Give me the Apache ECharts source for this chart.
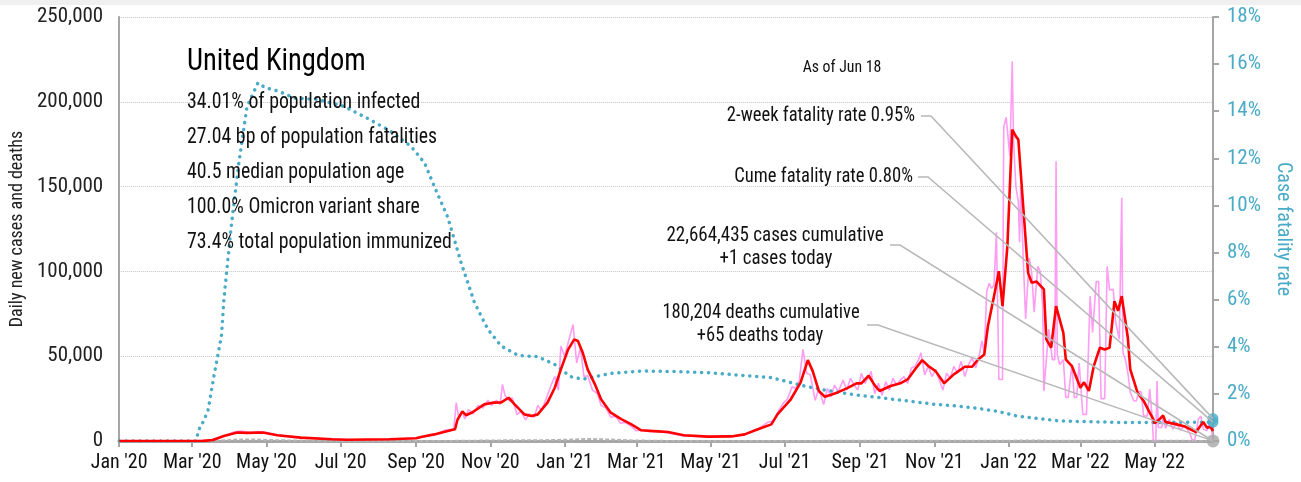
<!DOCTYPE html>
<html>
<head>
<meta charset="utf-8">
<script src="https://cdn.jsdelivr.net/npm/echarts@6/dist/echarts.min.js"></script>
<style>
  html, body { margin: 0; padding: 0; background: #fff; }
  #chart { width: 1301px; height: 482px; }
</style>
</head>
<body>
<div id="chart"></div>
<script>
// x axis ticks
const tickDates = ['2020-01-01', '2020-03-01', '2020-05-01', '2020-07-01', '2020-09-01', '2020-11-01',
  '2021-01-01', '2021-03-01', '2021-05-01', '2021-07-01', '2021-09-01', '2021-11-01',
  '2022-01-01', '2022-03-01', '2022-05-01'];
const tickLabels = ["Jan '20", "Mar '20", "May '20", "Jul '20", "Sep '20", "Nov '20",
  "Jan '21", "Mar '21", "May '21", "Jul '21", "Sep '21", "Nov '21",
  "Jan '22", "Mar '22", "May '22"];
const startDate = '2020-01-01';
const endDate = '2022-06-18';

// daily new cases, thousands
const dailyCases = [
  ['2020-01-01', 0], ['2020-03-01', 0.05], ['2020-03-15', 0.4], ['2020-03-25', 2.5], ['2020-04-05', 5.5],
  ['2020-04-10', 5.9], ['2020-04-18', 4.8], ['2020-04-24', 5.6], ['2020-05-01', 5.0], ['2020-05-10', 3.5],
  ['2020-05-30', 2.0], ['2020-06-24', 1.0], ['2020-07-06', 0.6], ['2020-08-10', 1.0], ['2020-09-01', 1.6],
  ['2020-09-10', 3.0], ['2020-09-18', 4.2], ['2020-09-25', 6.5], ['2020-10-02', 7.0], ['2020-10-04', 22.6],
  ['2020-10-06', 14.0], ['2020-10-09', 17.5], ['2020-10-11', 13.0], ['2020-10-14', 18.5], ['2020-10-18', 16.0],
  ['2020-10-22', 21.0], ['2020-10-26', 19.5], ['2020-10-30', 24.0], ['2020-11-02', 21.0], ['2020-11-06', 24.0],
  ['2020-11-09', 21.5], ['2020-11-11', 33.4], ['2020-11-13', 27.0], ['2020-11-16', 24.0], ['2020-11-19', 25.5],
  ['2020-11-23', 15.5], ['2020-11-26', 17.5], ['2020-11-30', 12.5], ['2020-12-03', 16.0], ['2020-12-07', 14.0],
  ['2020-12-10', 21.0], ['2020-12-13', 18.0], ['2020-12-17', 25.0], ['2020-12-21', 33.0], ['2020-12-24', 38.0],
  ['2020-12-27', 30.0], ['2020-12-29', 56.0], ['2021-01-01', 50.0], ['2021-01-04', 58.0], ['2021-01-08', 68.7],
  ['2021-01-11', 46.0], ['2021-01-14', 55.0], ['2021-01-17', 38.0], ['2021-01-20', 38.5], ['2021-01-24', 30.0],
  ['2021-01-28', 28.0], ['2021-01-31', 21.0], ['2021-02-04', 19.5], ['2021-02-08', 14.0], ['2021-02-12', 14.5],
  ['2021-02-16', 10.5], ['2021-02-20', 11.0], ['2021-02-25', 8.5], ['2021-03-01', 6.0], ['2021-03-05', 6.5],
  ['2021-03-12', 5.5], ['2021-03-19', 5.5], ['2021-03-27', 4.8], ['2021-04-09', 3.0], ['2021-04-29', 2.5],
  ['2021-05-18', 2.8], ['2021-05-29', 3.5], ['2021-06-05', 6.0], ['2021-06-10', 7.5], ['2021-06-17', 11.0],
  ['2021-06-22', 12.0], ['2021-06-26', 18.0], ['2021-06-30', 22.5], ['2021-07-03', 24.5], ['2021-07-07', 32.0],
  ['2021-07-10', 31.0], ['2021-07-13', 36.0], ['2021-07-16', 54.0], ['2021-07-19', 40.0], ['2021-07-22', 39.0],
  ['2021-07-26', 24.0], ['2021-07-29', 31.0], ['2021-08-02', 21.5], ['2021-08-05', 31.0], ['2021-08-08', 26.0],
  ['2021-08-11', 33.0], ['2021-08-14', 29.0], ['2021-08-18', 36.0], ['2021-08-21', 30.0], ['2021-08-24', 37.0],
  ['2021-08-27', 33.0], ['2021-08-30', 30.0], ['2021-09-02', 40.0], ['2021-09-05', 34.0], ['2021-09-08', 38.0],
  ['2021-09-10', 41.0], ['2021-09-13', 28.0], ['2021-09-16', 34.0], ['2021-09-19', 27.0], ['2021-09-22', 35.0],
  ['2021-09-25', 30.0], ['2021-09-28', 37.0], ['2021-10-01', 33.0], ['2021-10-04', 36.0], ['2021-10-07', 38.0],
  ['2021-10-10', 34.0], ['2021-10-13', 43.0], ['2021-10-16', 44.0], ['2021-10-19', 48.0], ['2021-10-21', 52.0],
  ['2021-10-24', 39.0], ['2021-10-27', 44.0], ['2021-10-30', 38.0], ['2021-11-02', 42.0], ['2021-11-05', 36.0],
  ['2021-11-08', 30.0], ['2021-11-11', 40.0], ['2021-11-14', 37.0], ['2021-11-17', 44.0], ['2021-11-20', 40.0],
  ['2021-11-23', 47.0], ['2021-11-26', 38.0], ['2021-11-29', 45.0], ['2021-12-02', 49.0], ['2021-12-05', 43.0],
  ['2021-12-08', 51.0], ['2021-12-10', 59.0], ['2021-12-12', 52.0], ['2021-12-14', 88.0], ['2021-12-16', 93.0],
  ['2021-12-18', 90.0], ['2021-12-20', 92.0], ['2021-12-22', 123.0], ['2021-12-24', 36.3], ['2021-12-27', 36.3],
  ['2021-12-28', 185.0], ['2021-12-30', 191.0], ['2021-12-31', 191.0], ['2022-01-02', 168.0], ['2022-01-04', 223.8],
  ['2022-01-05', 178.0], ['2022-01-07', 150.0], ['2022-01-09', 141.0], ['2022-01-10', 117.0], ['2022-01-11', 150.0],
  ['2022-01-13', 108.0], ['2022-01-15', 72.0], ['2022-01-16', 72.0], ['2022-01-18', 108.0], ['2022-01-20', 99.0],
  ['2022-01-22', 76.0], ['2022-01-23', 76.0], ['2022-01-25', 103.0], ['2022-01-27', 100.0], ['2022-01-29', 80.0],
  ['2022-01-30', 29.5], ['2022-01-31', 29.5], ['2022-02-03', 66.0], ['2022-02-06', 48.0], ['2022-02-08', 48.0],
  ['2022-02-09', 165.0], ['2022-02-10', 51.0], ['2022-02-12', 45.0], ['2022-02-15', 48.0], ['2022-02-17', 25.7],
  ['2022-02-19', 25.7], ['2022-02-21', 38.5], ['2022-02-22', 45.0], ['2022-02-24', 25.7], ['2022-02-26', 25.7],
  ['2022-02-28', 46.0], ['2022-03-01', 46.0], ['2022-03-03', 15.7], ['2022-03-06', 15.7], ['2022-03-09', 85.4],
  ['2022-03-11', 64.0], ['2022-03-14', 94.0], ['2022-03-16', 94.0], ['2022-03-18', 25.0], ['2022-03-21', 25.0],
  ['2022-03-23', 103.0], ['2022-03-25', 89.0], ['2022-03-28', 89.4], ['2022-03-30', 70.0], ['2022-04-02', 60.0],
  ['2022-04-03', 60.0], ['2022-04-04', 143.4], ['2022-04-05', 52.0], ['2022-04-07', 48.0], ['2022-04-09', 40.4],
  ['2022-04-11', 28.6], ['2022-04-14', 23.6], ['2022-04-16', 23.6], ['2022-04-18', 29.0], ['2022-04-20', 29.0],
  ['2022-04-22', 14.7], ['2022-04-25', 14.7], ['2022-04-27', 30.6], ['2022-04-29', 14.0], ['2022-04-30', 0.0],
  ['2022-05-02', 0.0], ['2022-05-03', 35.3], ['2022-05-04', 8.0], ['2022-05-07', 8.0], ['2022-05-08', 14.7],
  ['2022-05-10', 7.5], ['2022-05-13', 12.8], ['2022-05-16', 7.0], ['2022-05-19', 11.0], ['2022-05-22', 6.5],
  ['2022-05-26', 9.0], ['2022-05-30', 4.5], ['2022-06-01', 0.5], ['2022-06-03', 0.5], ['2022-06-06', 13.0],
  ['2022-06-08', 14.7], ['2022-06-10', 7.0], ['2022-06-13', 6.0], ['2022-06-15', 11.0], ['2022-06-17', 6.0],
  ['2022-06-18', 0.0]
];

// 7-day average of new cases, thousands
const avgCases = [
  ['2020-01-01', 0], ['2020-03-01', 0.03], ['2020-03-10', 0.05], ['2020-03-18', 0.6], ['2020-03-27', 3.0],
  ['2020-04-07', 5.0], ['2020-04-15', 4.8], ['2020-04-28', 5.0], ['2020-05-10', 3.4], ['2020-05-29', 2.0],
  ['2020-06-24', 1.0], ['2020-07-06', 0.7], ['2020-08-10', 1.0], ['2020-09-01', 1.6], ['2020-09-05', 2.4],
  ['2020-09-16', 3.9], ['2020-09-27', 5.9], ['2020-10-03', 6.9], ['2020-10-05', 12.5], ['2020-10-09', 17.5],
  ['2020-10-12', 15.2], ['2020-10-17', 16.8], ['2020-10-27', 21.6], ['2020-11-03', 22.6], ['2020-11-10', 22.8],
  ['2020-11-16', 25.5], ['2020-11-21', 21.6], ['2020-11-29', 15.7], ['2020-12-05', 14.7], ['2020-12-10', 15.7],
  ['2020-12-18', 22.6], ['2020-12-24', 31.4], ['2020-12-29', 42.2], ['2021-01-04', 54.0], ['2021-01-09', 59.9],
  ['2021-01-12', 59.0], ['2021-01-16', 52.0], ['2021-01-20', 42.2], ['2021-01-26', 33.4], ['2021-01-31', 24.6],
  ['2021-02-08', 16.7], ['2021-02-17', 12.8], ['2021-02-25', 9.8], ['2021-03-05', 6.3], ['2021-03-19', 5.7],
  ['2021-03-27', 5.3], ['2021-04-09', 3.4], ['2021-04-29', 2.6], ['2021-05-18', 2.7], ['2021-05-29', 3.9],
  ['2021-06-09', 6.9], ['2021-06-20', 9.8], ['2021-06-25', 15.7], ['2021-07-06', 24.6], ['2021-07-14', 34.4],
  ['2021-07-20', 47.7], ['2021-07-24', 41.2], ['2021-07-29', 29.5], ['2021-08-03', 26.1], ['2021-08-13', 28.5],
  ['2021-08-21', 31.0], ['2021-08-29', 34.0], ['2021-09-02', 34.0], ['2021-09-08', 38.5], ['2021-09-13', 32.8],
  ['2021-09-17', 29.5], ['2021-09-26', 32.4], ['2021-10-04', 34.0], ['2021-10-10', 36.3], ['2021-10-16', 42.2],
  ['2021-10-22', 47.7], ['2021-10-27', 44.2], ['2021-11-02', 41.2], ['2021-11-09', 34.0], ['2021-11-17', 39.3],
  ['2021-11-26', 43.8], ['2021-12-02', 43.8], ['2021-12-07', 48.1], ['2021-12-12', 51.0], ['2021-12-15', 67.7],
  ['2021-12-20', 85.4], ['2021-12-24', 100.1], ['2021-12-27', 79.5], ['2021-12-31', 114.9], ['2022-01-04', 183.6],
  ['2022-01-07', 179.6], ['2022-01-09', 177.7], ['2022-01-13', 138.4], ['2022-01-17', 99.3], ['2022-01-20', 93.3],
  ['2022-01-24', 94.0], ['2022-01-30', 89.4], ['2022-02-01', 59.9], ['2022-02-05', 55.0], ['2022-02-09', 79.5],
  ['2022-02-15', 63.8], ['2022-02-17', 48.1], ['2022-02-22', 44.2], ['2022-03-01', 31.4], ['2022-03-04', 34.6],
  ['2022-03-08', 29.5], ['2022-03-12', 44.2], ['2022-03-17', 55.0], ['2022-03-21', 54.0], ['2022-03-25', 55.0],
  ['2022-03-29', 82.5], ['2022-04-01', 76.7], ['2022-04-04', 85.4], ['2022-04-09', 60.9], ['2022-04-11', 42.2],
  ['2022-04-17', 28.5], ['2022-04-22', 23.6], ['2022-04-27', 16.7], ['2022-04-30', 12.8], ['2022-05-01', 10.4],
  ['2022-05-05', 12.8], ['2022-05-08', 15.1], ['2022-05-10', 11.2], ['2022-05-19', 9.8], ['2022-05-26', 8.5],
  ['2022-06-04', 5.3], ['2022-06-10', 11.2], ['2022-06-13', 7.9], ['2022-06-16', 8.3], ['2022-06-18', 5.9]
];

// daily deaths (7-day average)
const dailyDeaths = [
  ['2020-01-01', 0], ['2020-03-10', 0], ['2020-03-25', 300], ['2020-04-10', 950], ['2020-04-20', 900],
  ['2020-05-05', 550], ['2020-05-25', 250], ['2020-06-20', 100], ['2020-07-15', 40], ['2020-09-01', 10],
  ['2020-10-01', 60], ['2020-11-15', 400], ['2020-12-10', 420], ['2021-01-01', 700], ['2021-01-20', 1250],
  ['2021-02-05', 900], ['2021-03-01', 300], ['2021-03-25', 60], ['2021-05-01', 10], ['2021-07-01', 20],
  ['2021-08-15', 100], ['2021-10-01', 130], ['2021-11-15', 150], ['2021-12-20', 120], ['2022-01-15', 270],
  ['2022-02-15', 180], ['2022-03-15', 130], ['2022-04-10', 260], ['2022-05-01', 200], ['2022-06-01', 60],
  ['2022-06-18', 65]
];

// case fatality rate, percent
const fatalityRate = [
  ['2020-01-01', 0], ['2020-03-04', 0], ['2020-03-05', 0.2], ['2020-03-08', 0.7], ['2020-03-10', 0.8],
  ['2020-03-14', 1.3], ['2020-03-19', 2.8], ['2020-03-25', 4.45], ['2020-03-27', 6.0], ['2020-04-02', 9.1],
  ['2020-04-08', 11.7], ['2020-04-15', 14.2], ['2020-04-24', 15.2], ['2020-04-30', 15.0], ['2020-05-11', 14.85],
  ['2020-05-24', 14.56], ['2020-06-12', 14.5], ['2020-07-04', 14.2], ['2020-07-23', 13.7], ['2020-08-11', 13.15],
  ['2020-08-28', 12.5], ['2020-09-08', 11.8], ['2020-09-16', 10.8], ['2020-09-27', 9.5], ['2020-10-08', 7.57],
  ['2020-10-19', 5.87], ['2020-10-30', 4.74], ['2020-11-10', 4.03], ['2020-11-24', 3.63], ['2020-12-10', 3.58],
  ['2020-12-24', 3.25], ['2021-01-06', 2.73], ['2021-01-16', 2.62], ['2021-01-28', 2.75], ['2021-02-08', 2.87],
  ['2021-03-05', 2.97], ['2021-04-01', 2.95], ['2021-04-29', 2.9], ['2021-05-26', 2.79], ['2021-06-20', 2.69],
  ['2021-07-06', 2.48], ['2021-07-20', 2.3], ['2021-08-03', 2.16], ['2021-08-25', 1.98], ['2021-09-06', 1.9],
  ['2021-09-17', 1.84], ['2021-10-10', 1.7], ['2021-11-01', 1.56], ['2021-11-21', 1.48], ['2021-12-09', 1.37],
  ['2021-12-22', 1.27], ['2022-01-08', 1.06], ['2022-01-24', 0.96], ['2022-02-12', 0.85], ['2022-04-09', 0.78],
  ['2022-06-12', 0.8], ['2022-06-18', 0.8]
];

const twoWeekRate = 0.95;
const cumeRate = 0.80;
const casesToday = 1;
const deathsToday = 65;

const t = s => Date.parse(s + 'T00:00:00Z');
const tickTimes = tickDates.map(t);
const endTime = t(endDate);
const font = "'Liberation Sans Narrow', 'Roboto Condensed', 'DejaVu Sans Condensed', sans-serif";
const teal = '#4aabc6';
const axisGray = '#a6a6a6';

const chart = echarts.init(document.getElementById('chart'));

const option = {
  animation: false,
  backgroundColor: '#fff',
  textStyle: { fontFamily: font },
  grid: { left: 117, right: 88, top: 17, bottom: 41 },
  xAxis: {
    type: 'value',
    min: t(startDate),
    max: endTime,
    axisLine: { lineStyle: { color: axisGray, width: 3 } },
    axisTick: { show: true, customValues: tickTimes, length: 6, lineStyle: { color: axisGray, width: 2 } },
    axisLabel: {
      customValues: tickTimes,
      formatter: v => {
        const i = tickTimes.findIndex(x => Math.abs(x - v) < 86400000);
        return i >= 0 ? tickLabels[i] : '';
      },
      color: '#111', fontSize: 20, margin: 12, fontFamily: font
    },
    splitLine: { show: false }
  },
  yAxis: [
    {
      type: 'value', min: 0, max: 250000, interval: 50000, position: 'left',
      name: 'Daily new cases and deaths', nameLocation: 'middle', nameGap: 90,
      nameTextStyle: { color: '#222', fontSize: 18, fontFamily: font },
      axisLine: { show: true, lineStyle: { color: axisGray, width: 2 } },
      axisTick: { show: false },
      axisLabel: { formatter: v => v.toLocaleString('en-US'), color: '#222', fontSize: 21, margin: 16, fontFamily: font },
      splitLine: { show: true, lineStyle: { color: '#c4c4c4', type: 'dotted', width: 1 } }
    },
    {
      type: 'value', min: 0, max: 18, interval: 2, position: 'right',
      name: 'Case fatality rate', nameLocation: 'middle', nameRotate: -90, nameGap: 60,
      nameTextStyle: { color: teal, fontSize: 20, fontFamily: font },
      axisLine: { show: true, lineStyle: { color: axisGray, width: 2 } },
      axisTick: { show: true, length: 6, lineStyle: { color: axisGray, width: 2 } },
      axisLabel: { formatter: '{value}%', color: teal, fontSize: 21, margin: 14, fontFamily: font },
      splitLine: { show: false }
    }
  ],
  series: [
    {
      name: 'Daily cases', type: 'line', showSymbol: false,
      data: dailyCases.map(d => [t(d[0]), d[1] * 1000]),
      lineStyle: { color: '#ff9cf3', width: 1.6 }, z: 2
    },
    {
      name: 'Daily deaths', type: 'line', showSymbol: false,
      data: dailyDeaths.map(d => [t(d[0]), d[1]]),
      lineStyle: { color: '#b5b5b5', width: 2, type: [4, 2] }, z: 3
    },
    {
      name: 'Case fatality rate', type: 'line', yAxisIndex: 1, showSymbol: false,
      data: fatalityRate.map(d => [t(d[0]), d[1]]),
      lineStyle: { color: teal, width: 3.5, type: [0.1, 6.8], cap: 'round' }, z: 4
    },
    {
      name: '7-day average', type: 'line', showSymbol: false,
      data: avgCases.map(d => [t(d[0]), d[1] * 1000]),
      lineStyle: { color: '#ff0000', width: 2.6 }, z: 5
    },
    {
      name: 'Rates today', type: 'scatter', yAxisIndex: 1, symbolSize: 11,
      data: [[endTime, twoWeekRate], [endTime, cumeRate]],
      itemStyle: { color: teal }, z: 6
    },
    {
      name: 'Today', type: 'scatter', symbolSize: 13,
      data: [[endTime, deathsToday]],
      itemStyle: { color: axisGray }, z: 6
    }
  ]
};

chart.setOption(option);

// annotation text and leader lines; texts squeezed a little to match the narrow face
const txt = (x, y, text, size, align, sx, color) => ({
  type: 'text', x: x, y: y, z: 20, scaleX: sx,
  style: { text: text, font: size + 'px ' + font, fill: color || '#111', align: align, verticalAlign: 'middle' }
});

const px = (v, axis) => chart.convertToPixel(axis === 1 ? { xAxisIndex: 0, yAxisIndex: 1 } : { xAxisIndex: 0, yAxisIndex: 0 }, [endTime, v]);
const leader = (x0, x1, y, end) => ({
  type: 'polyline', z: 15, silent: true,
  shape: { points: [[x0, y], [x1, y], end] },
  style: { stroke: '#b8b8b8', lineWidth: 1.5, fill: null }
});

const statLines = ['34.01% of population infected', '27.04 bp of population fatalities', '40.5 median population age',
  '100.0% Omicron variant share', '73.4% total population immunized'];

const graphics = [
  { type: 'rect', shape: { x: 0, y: 0, width: 1301, height: 5 }, style: { fill: '#f0f0f0' }, z: 1 },
  txt(187, 62, 'United Kingdom', 31, 'left', 0.92, '#000'),
  ...statLines.map((s, i) => txt(187, 102 + i * 35, s, 22, 'left', 0.9)),
  txt(842, 68, 'As of Jun 18', 17, 'center', 0.93),
  txt(915, 116, '2-week fatality rate ' + twoWeekRate.toFixed(2) + '%', 20, 'right', 0.93),
  txt(913, 177, 'Cume fatality rate ' + cumeRate.toFixed(2) + '%', 20, 'right', 0.93),
  txt(775, 236, '22,664,435 cases cumulative', 20, 'center', 0.95),
  txt(776, 259, '+' + casesToday + ' cases today', 20, 'center', 0.95),
  txt(761, 313, '180,204 deaths cumulative', 20, 'center', 0.93),
  txt(760, 336, '+' + deathsToday + ' deaths today', 20, 'center', 0.93),
  leader(921, 931, 116, px(twoWeekRate, 1)),
  leader(918, 928, 177, px(cumeRate, 1)),
  leader(890, 900, 245, px(casesToday, 0)),
  leader(867, 878, 325, px(deathsToday, 0))
];

chart.setOption({ graphic: graphics });
</script>
</body>
</html>
